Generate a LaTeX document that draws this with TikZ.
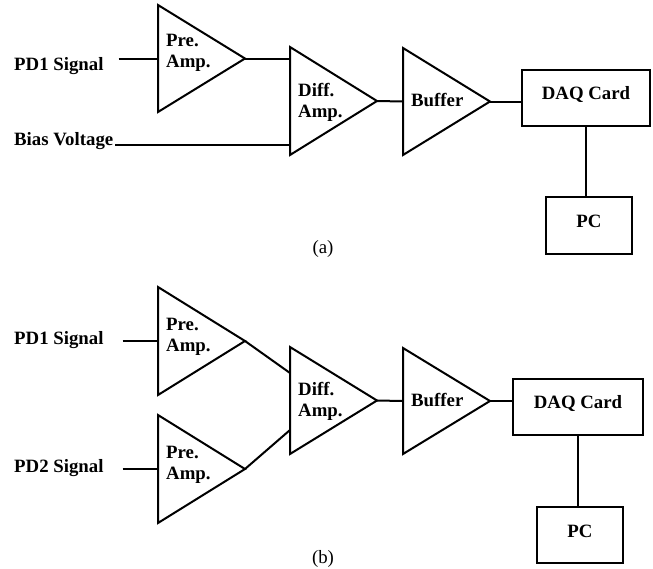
\documentclass[tikz,border=0pt]{standalone}
\usepackage{fontspec}
\setmainfont{Liberation Serif}
\usetikzlibrary{calc,positioning,shapes.geometric}

% for a right pointing triangle: minimum height = length, minimum width = base
\tikzset{
  amp/.style={isosceles triangle, isosceles triangle stretches, shape border rotate=0,
    draw, line width=2pt, minimum height=87pt, minimum width=107pt,
    inner sep=0pt, outer sep=0pt, anchor=west},
  tag/.style={anchor=west, align=left, inner sep=0pt, xshift=8pt, yshift=#1},
  blk/.style={draw, line width=2pt, inner sep=0pt, outer sep=0pt, text depth=#1},
  sig/.style={inner sep=0pt, anchor=base west},
  wire/.style={line width=2pt},
}

\begin{document}
\begin{tikzpicture}[x=1pt, y=-1pt, font=\bfseries\fontsize{18.8}{21}\selectfont]
  \useasboundingbox (0,0) rectangle (653,568);

  % (a) one photodiode against a bias voltage
  \node[sig] (pd1A) at (14,70) {PD1 Signal};
  \node[sig] (biasA) at (14,145) {Bias Voltage};
  \node[amp, label={[tag=6pt]west:Pre.\\Amp.}] (preA) at (158,58.5) {};
  \node[amp, minimum width=108pt, label={[tag=-1pt]west:Diff.\\Amp.}] (diffA) at (290,101) {};
  \node[amp, label={[tag=1.5pt]west:Buffer}] (bufA) at (403,101.5) {};
  \node[blk=10pt, minimum width=128pt, minimum height=56pt] (daqA) at (586,98) {DAQ Card};
  \node[blk=8pt, minimum width=86pt, minimum height=57pt] (pcA) at (589,225.5) {PC};
  \node[font=\fontsize{18.8}{21}\selectfont, anchor=base] (capA) at (323,253) {(a)};

  \draw[wire] ([xshift=15pt]pd1A.east |- preA.west) -- (preA.west);
  \draw[wire] (preA.apex) -- (preA.apex -| diffA.west);
  \draw[wire] ([xshift=2pt]biasA.base east) -- (biasA.base east -| diffA.west);
  \draw[wire] (diffA.apex) -- (bufA.west);
  \draw[wire] (bufA.apex) -- (bufA.apex -| daqA.west);
  \draw[wire] (daqA.south) -- (daqA.south |- pcA.north);

  % (b) two photodiodes
  \node[sig] (pd1B) at (14,344) {PD1 Signal};
  \node[sig] (pd2B) at (14,472) {PD2 Signal};
  \node[amp, minimum width=108pt, label={[tag=4.5pt]west:Pre.\\Amp.}] (preB) at (158,341) {};
  \node[amp, minimum width=108pt, label={[tag=4.5pt]west:Pre.\\Amp.}] (pre2B) at (158,469) {};
  \node[amp, label={[tag=-1pt]west:Diff.\\Amp.}] (diffB) at (290,400.5) {};
  \node[amp, minimum width=106pt, label={[tag=1.5pt]west:Buffer}] (bufB) at (403,401) {};
  \node[blk=10pt, minimum width=130pt, minimum height=56pt] (daqB) at (578,407) {DAQ Card};
  \node[blk=8pt, minimum width=86pt, minimum height=56pt] (pcB) at (580,535) {PC};
  \node[font=\fontsize{18.8}{21}\selectfont, anchor=base] (capB) at (323,563) {(b)};

  \draw[wire] ([xshift=19pt]pd1B.east |- preB.west) -- (preB.west);
  \draw[wire] ([xshift=19pt]pd2B.east |- pre2B.west) -- (pre2B.west);
  \draw[wire] (preB.apex) -- ($(diffB.west)+(0,-27.5)$);
  \draw[wire] (pre2B.apex) -- ($(diffB.west)+(0,29.5)$);
  \draw[wire] (diffB.apex) -- (bufB.west);
  \draw[wire] (bufB.apex) -- (bufB.apex -| daqB.west);
  \draw[wire] (daqB.south) -- (daqB.south |- pcB.north);
\end{tikzpicture}
\end{document}
